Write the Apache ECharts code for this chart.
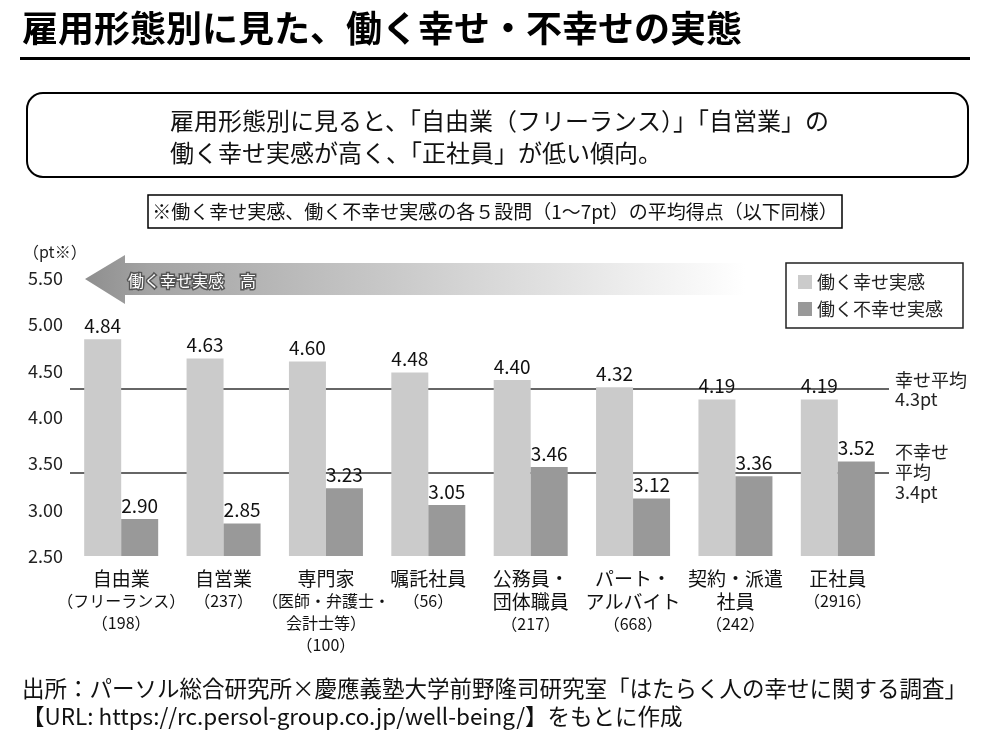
<!DOCTYPE html>
<html><head><meta charset="utf-8">
<script src="https://cdn.jsdelivr.net/npm/echarts@6/dist/echarts.min.js"></script>
<style>html,body{margin:0;padding:0;background:#fff}#c{width:1000px;height:736px}</style>
</head><body><div id="c"></div>
<script>
const mainLabels = [['自由業'], ['自営業'], ['専門家'], ['嘱託社員'], ['公務員・','団体職員'], ['パート・','アルバイト'], ['契約・派遣','社員'], ['正社員']];
const subLabels = [['（フリーランス）','（198）'], ['（237）'], ['（医師・弁護士・','会計士等）','（100）'], ['（56）'], ['（217）'], ['（668）'], ['（242）'], ['（2916）']];
const categories = mainLabels.map(m => m.join(''));
const happiness = [4.84, 4.63, 4.60, 4.48, 4.40, 4.32, 4.19, 4.19];
const unhappiness = [2.90, 2.85, 3.23, 3.05, 3.46, 3.12, 3.36, 3.52];
const happyAvg = 4.3;
const unhappyAvg = 3.4;
const yTicks = [2.5, 3.0, 3.5, 4.0, 4.5, 5.0, 5.5];
const seriesNames = ['働く幸せ実感', '働く不幸せ実感'];

const FONT = '"Noto Sans CJK JP", "Noto Sans", sans-serif';
const chart = echarts.init(document.getElementById('c'), null, {renderer: 'canvas'});

const catLabelMap = {};
categories.forEach((c, i) => {
  const parts = mainLabels[i].map(s => '{a|' + s + '}').concat(subLabels[i].map(s => '{b|' + s + '}'));
  catLabelMap[c] = parts.join('\n');
});

const valueLabel = {show: true, position: 'top', distance: 4, fontSize: 19, color: '#111', fontWeight: 'normal', formatter: p => p.value.toFixed(2), fontFamily: FONT};

const option = {
  animation: false,
  textStyle: {fontFamily: FONT},
  grid: {left: 70, right: 111, top: 278, bottom: 180, containLabel: false},
  legend: {
    orient: 'vertical', left: 786, top: 263,
    data: seriesNames,
    icon: 'rect', itemWidth: 14, itemHeight: 14, itemGap: 9,
    borderColor: '#222', borderWidth: 1.5, padding: [10, 20, 10, 12],
    textStyle: {fontSize: 18, color: '#222', fontFamily: FONT}
  },
  xAxis: {
    type: 'category', data: categories,
    axisLine: {show: false}, axisTick: {show: false},
    axisLabel: {
      interval: 0, margin: 11,
      formatter: v => catLabelMap[v],
      rich: {
        a: {fontSize: 19, lineHeight: 23, color: '#111', fontFamily: FONT},
        b: {fontSize: 16, lineHeight: 22, color: '#111', fontFamily: FONT}
      }
    }
  },
  yAxis: {
    type: 'value', min: yTicks[0], max: yTicks[yTicks.length - 1], interval: 0.5,
    axisLine: {show: false}, axisTick: {show: false}, splitLine: {show: false},
    axisLabel: {fontSize: 18, color: '#222', margin: 7, formatter: v => v.toFixed(2), fontFamily: FONT}
  },
  series: [
    {
      name: seriesNames[0], type: 'bar', data: happiness, barWidth: 37, barGap: '0%', z: 3,
      itemStyle: {color: '#cbcbcb'},
      label: valueLabel,
      markLine: {
        silent: true, symbol: 'none', z: 1,
        lineStyle: {color: '#333', width: 1.5, type: 'solid'},
        label: {show: false},
        data: [{yAxis: happyAvg}, {yAxis: unhappyAvg}]
      }
    },
    {
      name: seriesNames[1], type: 'bar', data: unhappiness, barWidth: 37, z: 3,
      itemStyle: {color: '#999999'},
      label: valueLabel
    }
  ],
  graphic: [
    {type: 'text', left: 22, top: 10, style: {text: '雇用形態別に見た、働く幸せ・不幸せの実態', font: 'bold 36px ' + FONT, fill: '#000'}},
    {type: 'rect', shape: {x: 20, y: 57, width: 950, height: 3}, style: {fill: '#000'}},
    {type: 'rect', shape: {x: 27, y: 93, width: 941, height: 84, r: 16}, style: {fill: '#fff', stroke: '#000', lineWidth: 2}},
    {type: 'text', x: 170, y: 121, style: {text: '雇用形態別に見ると、「自由業（フリーランス）」「自営業」の', font: '24px ' + FONT, fill: '#111', textVerticalAlign: 'middle'}},
    {type: 'text', x: 170, y: 153, style: {text: '働く幸せ実感が高く、「正社員」が低い傾向。', font: '24px ' + FONT, fill: '#111', textVerticalAlign: 'middle'}},
    {type: 'rect', shape: {x: 148, y: 195, width: 694, height: 33}, style: {fill: '#fff', stroke: '#000', lineWidth: 1.5}},
    {type: 'text', x: 495, y: 212, style: {text: '※働く幸せ実感、働く不幸せ実感の各５設問（1〜7pt）の平均得点（以下同様）', font: '19px ' + FONT, fill: '#111', textAlign: 'center', textVerticalAlign: 'middle'}},
    {type: 'text', x: 23, y: 252, style: {text: '（pt※）', font: '16px ' + FONT, fill: '#222', textVerticalAlign: 'middle'}},
    {type: 'polygon', z: 0,
      shape: {points: [[85, 279], [125, 255], [125, 263], [745, 263], [745, 295], [125, 295], [125, 304]]},
      style: {fill: new echarts.graphic.LinearGradient(0, 0, 1, 0, [{offset: 0, color: '#8e8e8e'}, {offset: 0.1, color: '#a4a4a4'}, {offset: 1, color: '#ffffff'}], false)}
    },
    {type: 'text', x: 128, y: 281, z: 5, style: {text: '働く幸せ実感　高', font: '16px ' + FONT, fill: '#fff', stroke: '#555', lineWidth: 3, textVerticalAlign: 'middle'}},
    {type: 'text', x: 895, y: 390, style: {text: '幸せ平均\n4.3pt', font: '18px ' + FONT, fill: '#222', lineHeight: 19, textVerticalAlign: 'middle'}},
    {type: 'text', x: 895, y: 472, style: {text: '不幸せ\n平均\n3.4pt', font: '18px ' + FONT, fill: '#222', lineHeight: 20, textVerticalAlign: 'middle'}},
    {type: 'text', x: 22, y: 688, style: {text: '出所：パーソル総合研究所×慶應義塾大学前野隆司研究室「はたらく人の幸せに関する調査」', font: '22.5px ' + FONT, fill: '#111', textVerticalAlign: 'middle'}},
    {type: 'text', x: 22, y: 716, style: {text: '【URL: https://rc.persol-group.co.jp/well-being/】をもとに作成', font: '22.5px ' + FONT, fill: '#111', textVerticalAlign: 'middle'}}
  ]
};
chart.setOption(option);
</script>
</body></html>
